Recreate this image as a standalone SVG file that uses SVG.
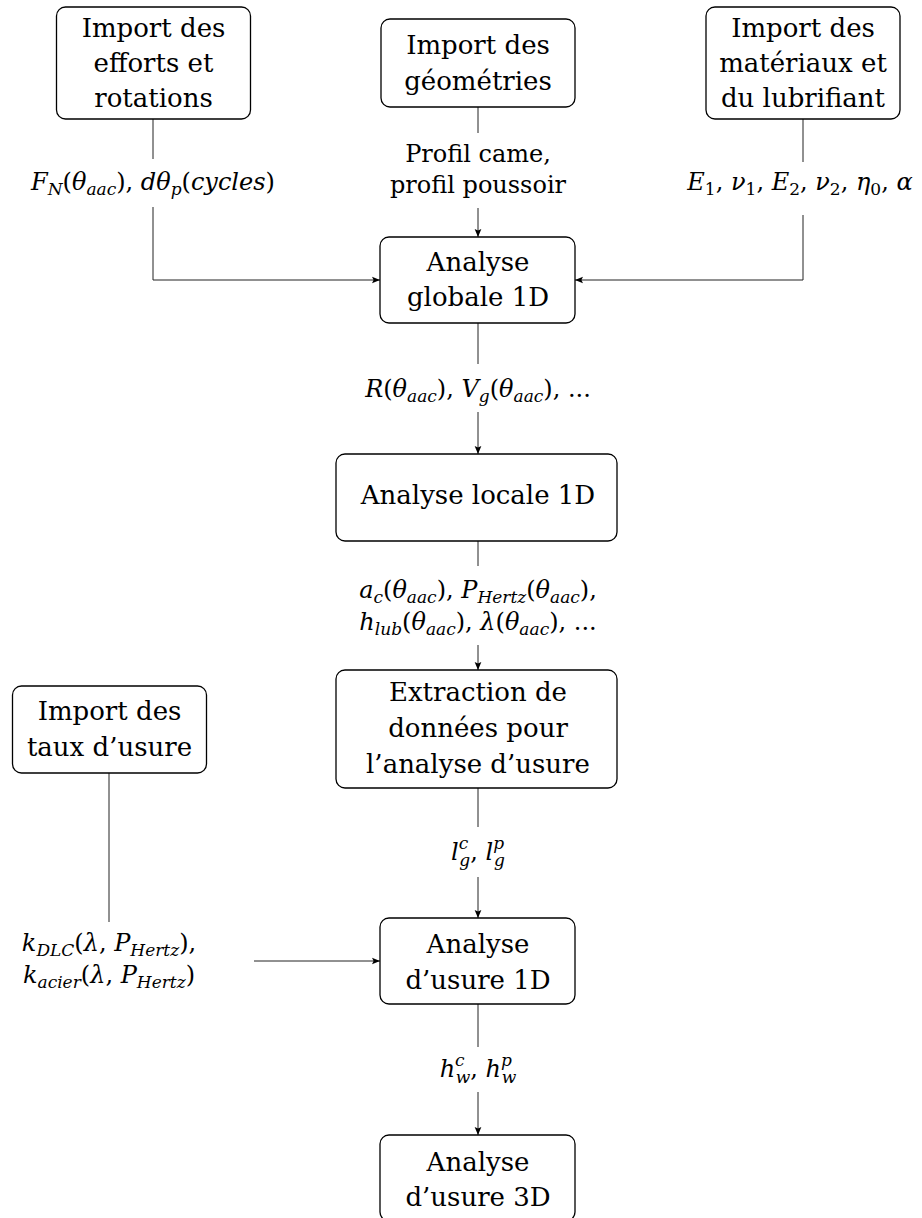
<svg xmlns="http://www.w3.org/2000/svg" width="922" height="1218" viewBox="0 0 922 1218">
<style>
.box{fill:#fff;stroke:#000;stroke-width:1.3}
.t{font-family:'DejaVu Serif',serif;font-size:26px;fill:#000;text-anchor:middle}
.m{font-family:'DejaVu Serif',serif;font-size:24px;fill:#000;text-anchor:middle}
.i{font-style:italic}
.s{font-size:17px}
.c{fill:none;stroke:#222;stroke-width:1}
</style>
<defs>
<marker id="ah" viewBox="0 0 10 10" refX="10" refY="5" markerWidth="8" markerHeight="8" markerUnits="userSpaceOnUse" orient="auto">
<path d="M0,0.8 L10,5 L0,9.2 L2,5 Z" fill="#000"/>
</marker>
</defs>
<rect width="922" height="1218" fill="#fff"/>
<g id="connectors">
<path class="c" d="M153,119 V159"/>
<path class="c" d="M153,207 V280 H380" marker-end="url(#ah)"/>
<path class="c" d="M478,107 V133"/>
<path class="c" d="M478,208 V237" marker-end="url(#ah)"/>
<path class="c" d="M803,119 V162"/>
<path class="c" d="M803,215 V280 H575" marker-end="url(#ah)"/>
<path class="c" d="M478,323 V364"/>
<path class="c" d="M478,412 V454" marker-end="url(#ah)"/>
<path class="c" d="M478,541 V566"/>
<path class="c" d="M478,645 V670" marker-end="url(#ah)"/>
<path class="c" d="M478,788 V827"/>
<path class="c" d="M478,877 V918" marker-end="url(#ah)"/>
<path class="c" d="M109,773 V922"/>
<path class="c" d="M254,961 H380" marker-end="url(#ah)"/>
<path class="c" d="M478,1004 V1047"/>
<path class="c" d="M478,1092 V1135" marker-end="url(#ah)"/>
</g>
<g id="labels">
<text class="m" x="153" y="190"><tspan class="i">F</tspan><tspan class="i s" dy="5">N</tspan><tspan dy="-5">(</tspan><tspan class="i">θ</tspan><tspan class="i s" dy="5">aac</tspan><tspan dy="-5">), </tspan><tspan class="i">dθ</tspan><tspan class="i s" dy="5">p</tspan><tspan dy="-5">(</tspan><tspan class="i">cycles</tspan>)</text>
<text class="m" x="478" y="162">Profil came,</text>
<text class="m" x="478" y="193">profil poussoir</text>
<text class="m" x="800" y="190"><tspan class="i">E</tspan><tspan class="s" dy="5">1</tspan><tspan dy="-5">, </tspan><tspan class="i">ν</tspan><tspan class="s" dy="5">1</tspan><tspan dy="-5">, </tspan><tspan class="i">E</tspan><tspan class="s" dy="5">2</tspan><tspan dy="-5">, </tspan><tspan class="i">ν</tspan><tspan class="s" dy="5">2</tspan><tspan dy="-5">, </tspan><tspan class="i">η</tspan><tspan class="s" dy="5">0</tspan><tspan dy="-5">, </tspan><tspan class="i">α</tspan></text>
<text class="m" x="478" y="397"><tspan class="i">R</tspan>(<tspan class="i">θ</tspan><tspan class="i s" dy="5">aac</tspan><tspan dy="-5">), </tspan><tspan class="i">V</tspan><tspan class="i s" dy="5">g</tspan><tspan dy="-5">(</tspan><tspan class="i">θ</tspan><tspan class="i s" dy="5">aac</tspan><tspan dy="-5">), ...</tspan></text>
<text class="m" x="478" y="598"><tspan class="i">a</tspan><tspan class="i s" dy="5">c</tspan><tspan dy="-5">(</tspan><tspan class="i">θ</tspan><tspan class="i s" dy="5">aac</tspan><tspan dy="-5">), </tspan><tspan class="i">P</tspan><tspan class="i s" dy="5">Hertz</tspan><tspan dy="-5">(</tspan><tspan class="i">θ</tspan><tspan class="i s" dy="5">aac</tspan><tspan dy="-5">),</tspan></text>
<text class="m" x="478" y="630"><tspan class="i">h</tspan><tspan class="i s" dy="5">lub</tspan><tspan dy="-5">(</tspan><tspan class="i">θ</tspan><tspan class="i s" dy="5">aac</tspan><tspan dy="-5">), </tspan><tspan class="i">λ</tspan>(<tspan class="i">θ</tspan><tspan class="i s" dy="5">aac</tspan><tspan dy="-5">), ...</tspan></text>
<text class="m" x="478" y="860"><tspan class="i">l</tspan><tspan class="i s" dy="-11">c</tspan><tspan class="i s" dx="-9" dy="17">g</tspan><tspan dy="-6">, </tspan><tspan class="i">l</tspan><tspan class="i s" dy="-11">p</tspan><tspan class="i s" dx="-10" dy="17">g</tspan></text>
<text class="m" x="109" y="951"><tspan class="i">k</tspan><tspan class="i s" dy="5">DLC</tspan><tspan dy="-5">(</tspan><tspan class="i">λ</tspan>, <tspan class="i">P</tspan><tspan class="i s" dy="5">Hertz</tspan><tspan dy="-5">),</tspan></text>
<text class="m" x="109" y="983"><tspan class="i">k</tspan><tspan class="i s" dy="5">acier</tspan><tspan dy="-5">(</tspan><tspan class="i">λ</tspan>, <tspan class="i">P</tspan><tspan class="i s" dy="5">Hertz</tspan><tspan dy="-5">)</tspan></text>
<text class="m" x="478" y="1077"><tspan class="i">h</tspan><tspan class="i s" dy="-11">c</tspan><tspan class="i s" dx="-9" dy="17">w</tspan><tspan dy="-6">, </tspan><tspan class="i">h</tspan><tspan class="i s" dy="-11">p</tspan><tspan class="i s" dx="-10" dy="17">w</tspan></text>
</g>
<g id="n-efforts">
<rect class="box" x="56.5" y="7" width="194" height="112" rx="9"/>
<text class="t" x="153.5" y="37">Import des</text>
<text class="t" x="153.5" y="72">efforts et</text>
<text class="t" x="153.5" y="107">rotations</text>
</g>
<g id="n-geometries">
<rect class="box" x="381" y="19" width="194" height="88" rx="9"/>
<text class="t" x="478" y="54">Import des</text>
<text class="t" x="478" y="90">géométries</text>
</g>
<g id="n-materiaux">
<rect class="box" x="706" y="7" width="194" height="112" rx="9"/>
<text class="t" x="803" y="37">Import des</text>
<text class="t" x="803" y="72">matériaux et</text>
<text class="t" x="803" y="107">du lubrifiant</text>
</g>
<g id="n-globale">
<rect class="box" x="380" y="237" width="195" height="86" rx="9"/>
<text class="t" x="478" y="271">Analyse</text>
<text class="t" x="478" y="306">globale 1D</text>
</g>
<g id="n-locale">
<rect class="box" x="336" y="454" width="281" height="87" rx="9"/>
<text class="t" x="478" y="504">Analyse locale 1D</text>
</g>
<g id="n-extraction">
<rect class="box" x="336" y="670" width="281" height="118" rx="9"/>
<text class="t" x="478" y="701">Extraction de</text>
<text class="t" x="478" y="737">données pour</text>
<text class="t" x="478" y="773">l’analyse d’usure</text>
</g>
<g id="n-taux">
<rect class="box" x="12.5" y="686" width="194" height="87" rx="9"/>
<text class="t" x="109.5" y="720">Import des</text>
<text class="t" x="109.5" y="756">taux d’usure</text>
</g>
<g id="n-usure1d">
<rect class="box" x="380" y="918" width="195" height="86" rx="9"/>
<text class="t" x="478" y="953">Analyse</text>
<text class="t" x="478" y="989">d’usure 1D</text>
</g>
<g id="n-usure3d">
<rect class="box" x="380" y="1135" width="195" height="86" rx="9"/>
<text class="t" x="478" y="1171">Analyse</text>
<text class="t" x="478" y="1206">d’usure 3D</text>
</g>
</svg>
